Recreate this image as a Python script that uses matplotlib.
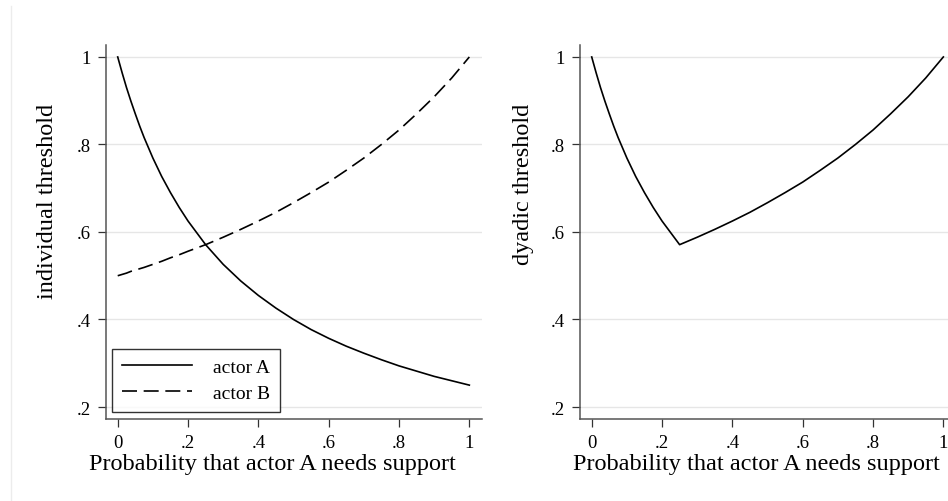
import matplotlib
matplotlib.use("Agg")
import matplotlib.pyplot as plt
from matplotlib.lines import Line2D

plt.rcParams["font.family"] = ["Liberation Serif", "DejaVu Serif"]

# ============================================================
# DADOS
# ============================================================

prob = [0, 0.0125, 0.025, 0.0375, 0.05, 0.0625, 0.075, 0.1, 0.125, 0.15,
        0.175, 0.2, 0.25, 0.3, 0.35, 0.4, 0.45, 0.5, 0.55, 0.6, 0.65, 0.7,
        0.75, 0.8, 0.85, 0.9, 0.95, 1.0]

actor_a = [1.000, 0.964, 0.930, 0.899, 0.870, 0.842, 0.816, 0.769, 0.727,
           0.690, 0.656, 0.625, 0.571, 0.526, 0.488, 0.455, 0.426, 0.400,
           0.377, 0.357, 0.339, 0.323, 0.308, 0.294, 0.282, 0.270, 0.260,
           0.250]

actor_b = [0.500, 0.503, 0.506, 0.510, 0.513, 0.516, 0.519, 0.526, 0.533,
           0.541, 0.548, 0.556, 0.571, 0.588, 0.606, 0.625, 0.645, 0.667,
           0.690, 0.714, 0.741, 0.769, 0.800, 0.833, 0.870, 0.909, 0.952,
           1.000]

dyadic = [1.000, 0.964, 0.930, 0.899, 0.870, 0.842, 0.816, 0.769, 0.727,
          0.690, 0.656, 0.625, 0.571, 0.588, 0.606, 0.625, 0.645, 0.667,
          0.690, 0.714, 0.741, 0.769, 0.800, 0.833, 0.870, 0.909, 0.952,
          1.000]

x_ticks = [0, 0.2, 0.4, 0.6, 0.8, 1.0]
x_labels = ["0", ".2", ".4", ".6", ".8", "1"]
y_ticks = [0.2, 0.4, 0.6, 0.8, 1.0]
y_labels = [".2", ".4", ".6", ".8", "1"]

XLABEL = "Probability that actor A needs support"


# ============================================================
# FIGURA
# ============================================================

W, H = 948, 502
fig = plt.figure(figsize=(W/100, H/100), dpi=100)
fig.patch.set_facecolor("white")

# borda clara da regiao do grafico
fig.add_artist(Line2D([11/W, 11/W], [0, 1 - 7/H], color="#ececec", lw=1))

ax1 = fig.add_axes([106/W, (H-420)/H, 376/W, (420-45.7)/H])
ax2 = fig.add_axes([580/W, (H-420)/H, 376/W, (420-45.7)/H])


def estilo(ax):
    ax.set_xlim(-0.0333, 1.036)
    ax.set_ylim(0.1726, 1.028)
    ax.set_xticks(x_ticks)
    ax.set_xticklabels(x_labels)
    ax.set_yticks(y_ticks)
    ax.set_yticklabels(y_labels)
    for s in ["top", "right"]:
        ax.spines[s].set_visible(False)
    for s in ["left", "bottom"]:
        ax.spines[s].set_color("#555555")
        ax.spines[s].set_linewidth(1.1)
    ax.tick_params(axis="both", length=6, width=0.9, color="#333333",
                   labelsize=13.5)
    ax.tick_params(axis="x", pad=5)
    ax.tick_params(axis="y", pad=5)
    ax.yaxis.grid(True, color="#e6e6e6", lw=1)
    ax.set_axisbelow(True)


def rotulos(x_base, ylabel, x_centro):
    # titulo do eixo y alinhado pelo topo, como no Stata
    fig.text(x_base/W, 1 - 104/H, ylabel, rotation=90, rotation_mode="anchor",
             ha="right", va="baseline", fontsize=17.5)
    fig.text(x_centro/W, 1 - 470/H, XLABEL, ha="center", va="baseline",
             fontsize=17.5)


ax1.plot(prob, actor_a, color="black", lw=1.2, label="actor A")
ax1.plot(prob, actor_b, color="black", lw=1.2, dashes=(9, 4), label="actor B")
estilo(ax1)
rotulos(53, "individual threshold", 272.5)

leg = ax1.legend(loc="lower left", bbox_to_anchor=(0.016, 0.0187), fontsize=14,
                 frameon=True, fancybox=False, edgecolor="black",
                 handlelength=3.6, handletextpad=1.1, borderpad=0.5,
                 labelspacing=0.45, borderaxespad=0)
leg.get_frame().set_linewidth(1.0)

ax2.plot(prob, dyadic, color="black", lw=1.2)
estilo(ax2)
rotulos(529, "dyadic threshold", 756.5)

plt.savefig("out.png", dpi=100)
plt.close()
